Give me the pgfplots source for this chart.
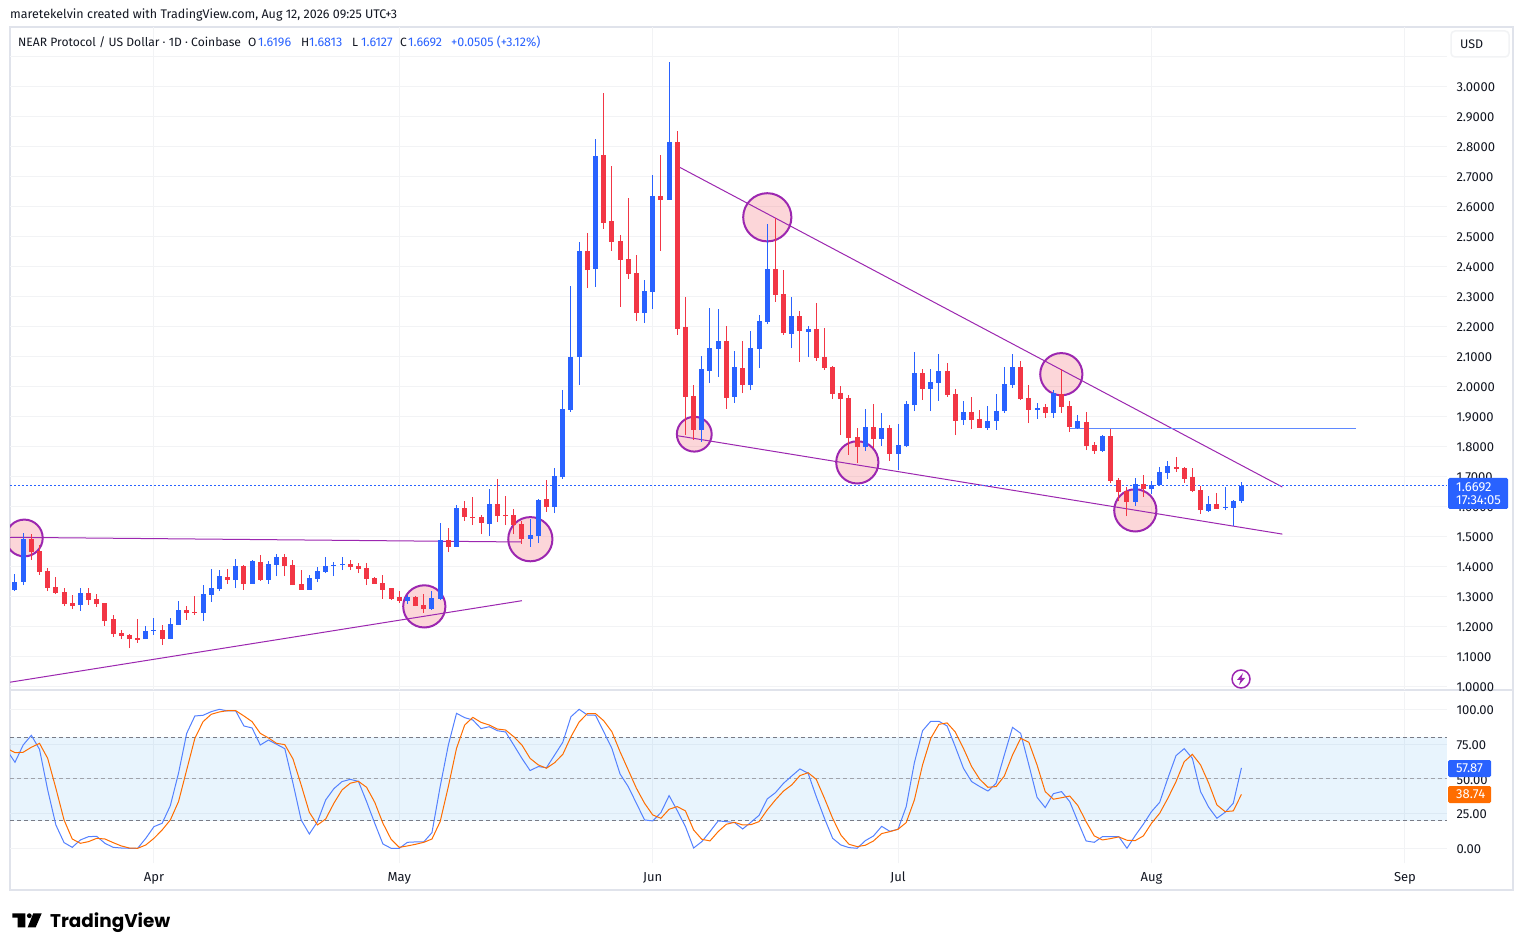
\documentclass[border=0pt]{standalone}
\usepackage{fontspec}
\setmainfont{Fira Sans}
\newfontfamily\logofont{Poppins}
\usepackage{pgfplots}
\usepackage{pgfplotstable}
\pgfplotsset{compat=1.18}

\definecolor{cred}{HTML}{F23645}
\definecolor{cblue}{HTML}{2962FF}
\definecolor{corange}{HTML}{FF6D00}
\definecolor{cpurple}{HTML}{9C27B0}
\definecolor{ctext}{HTML}{131722}
\definecolor{cgrid}{HTML}{F2F3F5}
\definecolor{cframe}{HTML}{E0E3EB}
\definecolor{cband}{HTML}{2196F3}
\definecolor{cdash}{HTML}{787B86}
\newcommand\fs[1]{\fontsize{#1}{#1}\selectfont}

% candles: day (0 = 1 Apr), body bottom, body top, wick low, wick high
\pgfplotstableread{
d bot top lo hi
-17 1.322 1.348 1.318 1.375
-16 1.349 1.492 1.338 1.512
-9 1.272 1.312 1.252 1.328
-1 1.158 1.185 1.158 1.202
0 1.185 1.188 1.172 1.228
2 1.158 1.208 1.158 1.228
3 1.205 1.255 1.205 1.285
6 1.245 1.308 1.218 1.338
7 1.305 1.328 1.282 1.392
8 1.325 1.368 1.318 1.388
10 1.355 1.402 1.328 1.425
12 1.342 1.418 1.342 1.422
14 1.355 1.408 1.342 1.418
15 1.405 1.432 1.368 1.442
19 1.322 1.362 1.322 1.372
20 1.358 1.385 1.348 1.398
21 1.382 1.402 1.378 1.432
22 1.402 1.405 1.368 1.415
23 1.405 1.408 1.388 1.432
31 1.285 1.298 1.275 1.305
34 1.258 1.295 1.255 1.318
35 1.292 1.488 1.288 1.545
37 1.465 1.595 1.465 1.605
41 1.542 1.608 1.502 1.658
46 1.492 1.505 1.465 1.558
47 1.502 1.622 1.478 1.625
49 1.598 1.702 1.578 1.728
50 1.698 1.925 1.692 1.988
51 1.922 2.098 1.915 2.335
52 2.098 2.452 2.005 2.482
54 2.392 2.768 2.332 2.825
60 2.245 2.318 2.212 2.355
61 2.315 2.635 2.258 2.705
63 2.622 2.815 2.622 3.082
67 1.855 2.058 1.815 2.102
68 2.052 2.128 2.012 2.262
69 2.125 2.152 2.032 2.258
71 1.965 2.065 1.945 2.118
73 2.005 2.128 1.988 2.185
74 2.125 2.218 2.062 2.238
75 2.215 2.392 2.208 2.542
78 2.175 2.235 2.128 2.298
80 2.182 2.192 2.098 2.202
87 1.798 1.865 1.785 1.925
89 1.825 1.862 1.802 1.912
91 1.775 1.805 1.722 1.875
92 1.802 1.942 1.798 1.952
93 1.938 2.045 1.918 2.115
95 1.992 2.015 1.918 2.058
96 2.012 2.052 1.952 2.108
99 1.888 1.915 1.872 1.952
102 1.862 1.885 1.855 1.935
103 1.885 1.918 1.855 1.975
104 1.918 2.008 1.912 2.065
105 2.005 2.065 1.995 2.108
108 1.922 1.928 1.892 1.945
110 1.912 1.978 1.895 1.988
113 1.862 1.885 1.858 1.905
116 1.785 1.835 1.782 1.838
120 1.615 1.675 1.602 1.695
122 1.658 1.672 1.642 1.685
123 1.672 1.715 1.668 1.732
124 1.712 1.735 1.692 1.752
129 1.585 1.608 1.582 1.635
131 1.595 1.598 1.588 1.665
132 1.595 1.618 1.535 1.622
133 1.6196 1.6692 1.6127 1.6813
}\upcandles

\pgfplotstableread{
d bot top lo hi
-15 1.447 1.492 1.422 1.508
-14 1.383 1.452 1.372 1.472
-13 1.329 1.385 1.318 1.395
-12 1.312 1.332 1.308 1.365
-11 1.275 1.315 1.268 1.328
-10 1.268 1.278 1.258 1.305
-8 1.288 1.312 1.272 1.328
-7 1.275 1.292 1.265 1.308
-6 1.218 1.278 1.202 1.278
-5 1.175 1.225 1.165 1.238
-4 1.168 1.178 1.158 1.188
-3 1.158 1.172 1.128 1.175
-2 1.155 1.162 1.145 1.225
1 1.158 1.188 1.138 1.205
4 1.245 1.255 1.222 1.268
5 1.245 1.248 1.238 1.302
9 1.355 1.365 1.342 1.392
11 1.342 1.402 1.322 1.405
13 1.355 1.415 1.352 1.438
16 1.402 1.432 1.368 1.442
17 1.338 1.405 1.338 1.422
18 1.322 1.342 1.322 1.388
24 1.398 1.408 1.388 1.422
25 1.392 1.402 1.378 1.412
26 1.358 1.395 1.338 1.412
27 1.342 1.362 1.342 1.365
28 1.322 1.345 1.292 1.372
29 1.292 1.328 1.288 1.328
30 1.285 1.298 1.278 1.318
32 1.268 1.298 1.268 1.302
33 1.258 1.272 1.245 1.308
36 1.465 1.488 1.448 1.528
38 1.565 1.595 1.552 1.618
39 1.562 1.565 1.538 1.632
40 1.545 1.565 1.508 1.572
42 1.568 1.608 1.548 1.692
43 1.568 1.572 1.538 1.635
44 1.538 1.572 1.508 1.592
45 1.492 1.542 1.475 1.552
48 1.598 1.625 1.582 1.688
53 2.388 2.452 2.328 2.512
55 2.545 2.772 2.525 2.978
56 2.482 2.552 2.452 2.735
57 2.422 2.485 2.265 2.505
58 2.375 2.425 2.358 2.628
59 2.245 2.378 2.218 2.438
62 2.622 2.635 2.452 2.772
64 2.192 2.815 2.172 2.852
65 1.965 2.198 1.838 2.298
66 1.855 1.968 1.822 2.005
70 1.962 2.152 1.925 2.202
72 2.005 2.062 1.978 2.152
76 2.305 2.392 2.282 2.562
77 2.178 2.308 2.172 2.388
79 2.185 2.235 2.082 2.252
81 2.095 2.192 2.085 2.278
82 2.062 2.098 2.055 2.195
83 1.975 2.065 1.958 2.068
84 1.958 1.978 1.838 2.002
85 1.828 1.962 1.772 1.972
86 1.798 1.832 1.745 1.862
88 1.825 1.865 1.795 1.942
90 1.775 1.862 1.752 1.872
94 1.992 2.045 1.955 2.058
97 1.972 2.052 1.965 2.078
98 1.885 1.975 1.838 1.992
100 1.888 1.915 1.858 1.965
101 1.862 1.892 1.862 1.922
106 1.958 2.065 1.955 2.085
107 1.922 1.962 1.878 2.005
109 1.912 1.932 1.895 1.942
111 1.932 1.975 1.912 2.058
112 1.865 1.935 1.848 1.952
114 1.802 1.882 1.788 1.915
115 1.785 1.805 1.775 1.815
117 1.685 1.835 1.678 1.858
118 1.648 1.688 1.618 1.695
119 1.615 1.652 1.568 1.665
121 1.658 1.675 1.632 1.705
125 1.725 1.732 1.715 1.765
126 1.692 1.728 1.678 1.732
127 1.652 1.698 1.648 1.728
128 1.588 1.655 1.575 1.668
130 1.592 1.608 1.592 1.645
}\downcandles

% stochastic %K and %D
\pgfplotstableread{
d k s
-18 70.7 71.9
-17 61.9 68.8
-16 74.3 69.1
-15 81.3 72.7
-14 71.2 75.5
-13 42.0 64.7
-12 16.8 43.2
-11 4.1 20.4
-10 0.7 6.7
-9 6.0 3.6
-8 8.4 4.8
-7 8.6 7.2
-6 3.6 6.7
-5 0.7 4.1
-4 0.2 1.7
-3 0 0.2
-2 0 0
-1 7.2 2.4
0 15.6 7.2
1 18.0 13.2
2 30.7 20.4
3 54.0 33.6
4 82.7 56.4
5 95.2 79.1
6 95.7 91.1
7 98.3 96.4
8 100 98.1
9 98.8 99.0
10 98.8 99.0
11 88.0 95.2
12 86.6 91.1
13 74.3 82.7
14 77.9 79.4
15 74.8 75.5
16 71.7 74.6
17 46.8 64.3
18 20.4 45.6
19 10.3 25.9
20 19.2 16.8
21 34.8 21.1
22 42.9 32.4
23 48.0 42.0
24 49.6 46.8
25 48.2 48.2
26 33.6 43.9
27 18.0 33.1
28 3.1 18.0
29 0 6.5
30 0 0.7
31 4.3 1.7
32 4.6 2.9
33 4.6 4.3
34 11.3 6.7
35 44.4 19.2
36 74.3 44.4
37 97.1 71.9
38 94.0 88.7
39 92.3 94.2
40 86.1 90.6
41 87.5 88.7
42 84.6 85.8
43 83.7 85.1
44 74.3 80.3
45 64.7 74.3
46 55.9 64.7
47 58.8 60.0
48 58.0 57.6
49 67.1 61.6
50 76.3 67.6
51 94.7 80.3
52 100 90.9
53 95.9 96.9
54 95.7 96.9
55 83.9 91.8
56 71.9 83.9
57 53.5 69.5
58 44.4 56.4
59 32.4 43.2
60 20.4 32.4
61 19.7 24.0
62 25.7 21.6
63 37.9 28.1
64 27.1 30.0
65 15.6 26.9
66 0.2 13.2
67 4.8 6.5
68 12.0 5.3
69 19.7 12.0
70 19.2 17.3
71 18.5 18.7
72 13.9 16.8
73 18.7 17.0
74 23.7 19.2
75 35.5 27.6
76 40.0 34.8
77 46.8 41.2
78 52.0 45.6
79 57.1 52.3
80 54.0 54.4
81 37.2 49.6
82 21.6 36.0
83 7.2 21.6
84 2.4 9.6
85 0.5 2.9
86 0 1.2
87 5.5 2.2
88 8.9 5.3
89 15.8 10.6
90 12.2 12.0
91 13.7 13.7
92 30.0 18.5
93 61.6 34.8
94 84.6 60.0
95 91.4 79.1
96 91.4 89.2
97 88.0 90.2
98 73.1 83.7
99 57.6 71.9
100 48.0 58.8
101 44.4 49.6
102 41.2 43.9
103 46.8 44.4
104 67.1 52.0
105 87.0 67.1
106 82.7 79.1
107 60.0 76.3
108 36.7 60.0
109 29.3 40.8
110 39.3 35.3
111 40.8 36.4
112 33.6 37.6
113 19.2 30.7
114 5.3 19.2
115 4.3 8.9
116 8.4 6.0
117 8.4 7.0
118 8.4 8.2
119 0 5.8
120 9.1 5.5
121 17.3 8.9
122 26.4 18.0
123 33.1 25.2
124 50.4 36.0
125 66.7 48.0
126 71.7 62.3
127 64.7 67.6
128 40.8 60.0
129 29.5 46.8
130 21.6 31.2
131 25.9 26.4
132 32.4 26.9
133 57.87 38.74
}\stoch

\pgfplotsset{
  pane/.style={
    scale only axis, width=1437pt,
    xmin=-17.61, xmax=158.14,
    axis line style={draw=none}, tick style={draw=none},
    grid=major, grid style={line width=1pt, color=cgrid},
    xtick={0,30,61,91,122,153},
    yticklabel pos=right,
    y tick label style={anchor=west, xshift=6pt, yshift=-1pt, text=ctext, font=\fs{13}},
    clip marker paths=true,
  },
  wick/.style={draw=none, mark=none, forget plot,
    error bars/.cd, y dir=plus, y explicit, error mark=none,
    error bar style={line width=1pt, color=#1}},
  body/.style={draw=none, mark=none, forget plot,
    error bars/.cd, y dir=plus, y explicit, error mark=none,
    error bar style={line width=5pt, color=#1}},
  ring/.style={only marks, mark=*, mark size=#1, forget plot,
    mark options={draw=cpurple, fill=cred, fill opacity=0.2, line width=2pt}},
}

\begin{document}
\begin{tikzpicture}[x=1pt,y=1pt]
\path[use as bounding box, fill=white] (0,0) rectangle (1523,951);
\draw[cframe, line width=1.5pt] (10,61) rectangle (1513,924);
\draw[cframe, line width=1.5pt] (10,261) -- (1513,261);

% price pane
\begin{axis}[pane, at={(10pt,261pt)}, anchor=south west, height=663pt,
    ymin=0.98833, ymax=3.19833,
    ytick={1,1.1,1.2,1.3,1.4,1.5,1.6,1.7,1.8,1.9,2,2.1,2.2,2.3,2.4,2.5,2.6,2.7,2.8,2.9,3,3.1},
    yticklabels={1.0000,1.1000,1.2000,1.3000,1.4000,1.5000,1.6000,1.7000,1.8000,1.9000,2.0000,2.1000,2.2000,2.3000,2.4000,2.5000,2.6000,2.7000,2.8000,2.9000,3.0000,},
    xticklabels={}]
% marked touches
\addplot[ring=18.4] coordinates {(-15.86,1.495)};
\addplot[ring=21.1] coordinates {(33.06,1.267) (86.02,1.747) (110.97,2.041) (120.02,1.587)};
\addplot[ring=22.1] coordinates {(46.03,1.491)};
\addplot[ring=17.4] coordinates {(66.08,1.841)};
\addplot[ring=24.1] coordinates {(75.01,2.564)};
% trend lines
\addplot[cpurple, line width=1pt, forget plot] coordinates {(-17.61,1.4973) (45.0,1.4817)};
\addplot[cpurple, line width=1pt, forget plot] coordinates {(-17.61,1.0143) (45.0,1.286)};
\addplot[cpurple, line width=1pt, forget plot] coordinates {(64.2,2.732) (138,1.665)};
\addplot[cpurple, line width=1pt, forget plot] coordinates {(64.0,1.836) (138,1.508)};
\addplot[cblue!75!white, line width=1.5pt, forget plot] coordinates {(112.03,1.86) (147,1.86)};
\addplot[color=cblue, line width=1.4pt, dash pattern=on 2pt off 2pt, forget plot] coordinates {(-17.61,1.6692) (158.14,1.6692)};
% candles
\addplot[wick=cblue] table[x=d, y=lo, y error expr=\thisrow{hi}-\thisrow{lo}] {\upcandles};
\addplot[body=cblue] table[x=d, y=bot, y error expr=\thisrow{top}-\thisrow{bot}] {\upcandles};
\addplot[wick=cred] table[x=d, y=lo, y error expr=\thisrow{hi}-\thisrow{lo}] {\downcandles};
\addplot[body=cred] table[x=d, y=bot, y error expr=\thisrow{top}-\thisrow{bot}] {\downcandles};
\end{axis}

% stochastic pane
\begin{axis}[pane, at={(10pt,88pt)}, anchor=south west, height=171pt,
    ymin=-10.576, ymax=112.45,
    ytick={0,25,50,75,100},
    yticklabels={0.00,25.00,50.00,75.00,100.00},
    xticklabels={Apr,May,Jun,Jul,Aug,Sep},
    x tick label style={anchor=center, yshift=-15pt, text=ctext, font=\fs{13}}]
\addplot[fill=cband, fill opacity=0.1, draw=none, forget plot] coordinates {(-17.61,20) (158.14,20) (158.14,80) (-17.61,80)} --cycle;
\addplot[cdash, line width=1pt, dash pattern=on 4pt off 3pt, forget plot] coordinates {(-17.61,80) (158.14,80)};
\addplot[cdash!70!white, line width=1pt, dash pattern=on 4pt off 3pt, forget plot] coordinates {(-17.61,50) (158.14,50)};
\addplot[cdash, line width=1pt, dash pattern=on 4pt off 3pt, forget plot] coordinates {(-17.61,20) (158.14,20)};
\addplot[cblue!80!white, line width=1pt] table[x=d, y=k] {\stoch};
\addplot[corange, line width=1pt] table[x=d, y=s] {\stoch};
\end{axis}

% header
\node[anchor=west, inner sep=0, text=ctext, font=\fs{12.5}] at (10,936.5) {maretekelvin created with TradingView.com, Aug 12, 2026 09:25 UTC+3};
\node[anchor=west, inner sep=0, text=ctext, font=\fs{12.1}] at (18,909) {NEAR Protocol / US Dollar · 1D · Coinbase};
\foreach \px/\t in {248/O,301/H,352/L,400/C}
  \node[anchor=west, inner sep=0, text=ctext, font=\fs{12}] at (\px,909) {\t};
\foreach \px/\t in {258/1.6196,309/1.6813,361/1.6127,408/1.6692,451/{+0.0505 (+3.12\%)}}
  \node[anchor=west, inner sep=0, text=cblue, font=\fs{12.5}] at (\px,909) {\t};
\draw[cgrid, line width=1.5pt, rounded corners=4pt, fill=white] (1451,894) rectangle (1509,920);
\node[anchor=west, inner sep=0, text=ctext, font=\fs{12.5}] at (1460,906.7) {USD};

% price and indicator tags
\fill[cblue, rounded corners=1.5pt] (1448,442) rectangle (1508,473);
\node[anchor=west, inner sep=0, text=white, font=\fs{13}] at (1456,463.5) {1.6692};
\node[anchor=west, inner sep=0, text=white, font=\fs{13}] at (1456,451) {17:34:05};
\fill[cblue, rounded corners=1.5pt] (1448,174) rectangle (1491,191);
\node[anchor=west, inner sep=0, text=white, font=\fs{13}] at (1456,182.5) {57.87};
\fill[corange, rounded corners=1.5pt] (1448,148) rectangle (1491,165);
\node[anchor=west, inner sep=0, text=white, font=\fs{13}] at (1456,156.5) {38.74};

% alert icon
\draw[cpurple, line width=1.5pt, fill=white] (1241,272) circle (9);
\fill[cpurple] (1243,278) -- (1237,271) -- (1240.5,271) -- (1239,266) -- (1245,273) -- (1241.5,273) -- cycle;

% logo
\fill[black] (12.3,37.7) rectangle (25.3,33.3) (17.7,33.3) rectangle (25.3,23.7);
\fill[black] (29.3,35.3) circle (2.4);
\fill[black] (33.3,37.7) -- (41.7,37.7) -- (35.7,23.7) -- (27.7,23.7) -- cycle;
\node[anchor=base west, inner sep=0, text=black, font=\logofont\bfseries\fs{18.4}] at (50,23.3) {TradingView};
\end{tikzpicture}
\end{document}
